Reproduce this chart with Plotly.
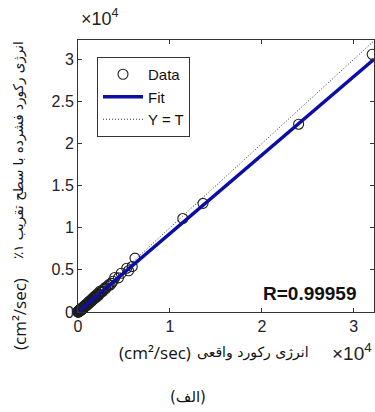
import numpy as np
import plotly.graph_objects as go

# ---- data (cm^2/sec) ----
actual = [0, 10, 30, 50, 70, 90, 110, 130, 150, 170, 200, 230, 260, 290, 320,
          350, 380, 420, 460, 500, 540, 590, 640, 700, 760, 820, 880, 950, 1020,
          1100, 1180, 1260, 1350, 1450, 1550, 1650, 1760, 1880, 2000, 2150, 2300,
          2450, 2600, 2800, 3000, 3200, 3500, 3800, 4000, 4400, 4700, 5300, 5500,
          5900, 6200, 11400, 13600, 24000, 32000,
          5, 15, 25, 40, 55, 65, 80, 100, 120, 140, 160, 185, 210, 240, 270,
          300, 340, 370, 400, 440, 480, 520, 570, 620, 680, 740, 800, 870, 930,
          1000, 1080, 1160, 1240, 1320, 1400, 1500, 1620, 1720, 1850, 1980,
          2100, 2250, 2400, 2700, 2950, 3350, 3650]
compressed = [0, 30, 10, 60, 40, 110, 80, 150, 120, 190, 160, 240, 210, 300, 260,
              370, 330, 420, 380, 500, 460, 560, 600, 690, 700, 800, 810, 920, 940,
              1060, 1090, 1200, 1230, 1380, 1420, 1580, 1600, 1800, 1820, 2050, 2100,
              2350, 2400, 2700, 2750, 3050, 3200, 3650, 4100, 4050, 4600, 5200, 4900,
              5400, 6400, 11100, 12900, 22300, 30600,
              60, 0, 70, 20, 100, 30, 130, 40, 170, 90, 220, 110, 250, 150, 320,
              220, 380, 250, 440, 330, 520, 390, 610, 500, 700, 610, 830, 720, 930,
              820, 1120, 980, 1280, 1150, 1440, 1300, 1680, 1540, 1900, 1750,
              2150, 1980, 2480, 2450, 2900, 3250, 3400]
fit_slope = 0.932
fit_intercept = 0.0
r_value = "0.99959"

x_tickvals = [0, 10000, 20000, 30000]
x_ticktext = ["0", "1", "2", "3"]
y_tickvals = [0, 5000, 10000, 15000, 20000, 25000, 30000]
y_ticktext = ["0", "0.5", "1", "1.5", "2", "2.5", "3"]
x_range = [0, 32200]
y_range = [0, 32300]

unit_label = "(cm²/sec)"
x_label_fa = "\u202Bانرژی رکورد واقعی\u202C"
y_label_fa = "\u202Bانرژی رکورد فشرده با سطح تقریب ۱٪\u202C"
caption = "\u202B(الف)\u202C"

line_x = np.array(x_range, dtype=float)
fit_y = fit_slope * line_x + fit_intercept

FONT = "Liberation Sans, Arial, DejaVu Sans, sans-serif"
LAT = "Open Sans, Liberation Sans, sans-serif"
FA = "DejaVu Sans, sans-serif"

# plot area in pixels: x 78..374, y 40..312
def px(xp):
    return (xp - 78) / 296.0

def py(yp):
    return (312 - yp) / 272.0

fig = go.Figure()
fig.add_trace(go.Scatter(
    x=actual, y=compressed, mode="markers", name="Data", cliponaxis=False,
    marker=dict(symbol="circle-open", size=10, color="#1e1e1e",
                line=dict(width=1.1, color="#1e1e1e"))))
fig.add_trace(go.Scatter(
    x=line_x, y=fit_y, mode="lines", name="Fit",
    line=dict(color="#0c0ca6", width=3.5)))
fig.add_trace(go.Scatter(
    x=line_x, y=line_x, mode="lines", name="Y = T",
    line=dict(color="#333333", width=1, dash="1px,2px")))

axis_common = dict(showgrid=False, zeroline=False, showline=True,
                   linecolor="#333333", linewidth=1, mirror="ticks",
                   ticks="inside", ticklen=4, tickcolor="#333333",
                   tickfont=dict(family=FONT, size=16, color="#222222"))

fig.update_xaxes(range=x_range, tickvals=x_tickvals, ticktext=x_ticktext,
                 **axis_common)
fig.update_yaxes(range=y_range, tickvals=y_tickvals, ticktext=y_ticktext,
                 **axis_common)

fig.update_layout(
    width=375, height=412,
    margin=dict(l=78, r=1, t=40, b=100),
    paper_bgcolor="white", plot_bgcolor="white",
    showlegend=True,
    legend=dict(x=px(97), y=py(57), xanchor="left", yanchor="top",
                bordercolor="#333333", borderwidth=1, bgcolor="white",
                font=dict(family=FONT, size=15, color="#111111"),
                tracegroupgap=0, itemwidth=40),
    annotations=[
        # x label
        dict(text=unit_label, xref="paper", yref="paper", x=px(155), y=py(352),
             xanchor="center", yanchor="middle", showarrow=False,
             font=dict(family=LAT, size=17, color="#111111")),
        dict(text=x_label_fa, xref="paper", yref="paper", x=px(253), y=py(352),
             xanchor="center", yanchor="middle", showarrow=False,
             font=dict(family=FA, size=14, color="#111111")),
        dict(text="×10<sup>4</sup>", xref="paper", yref="paper", x=px(374), y=py(352),
             xanchor="right", yanchor="middle", showarrow=False,
             font=dict(family=FONT, size=19, color="#222222")),
        dict(text="×10<sup>4</sup>", xref="paper", yref="paper", x=px(79), y=py(17),
             xanchor="left", yanchor="middle", showarrow=False,
             font=dict(family=FONT, size=18, color="#222222")),
        # y label
        dict(text=y_label_fa, xref="paper", yref="paper", x=px(18), y=py(150),
             xanchor="center", yanchor="middle", showarrow=False, textangle=-90,
             font=dict(family=FA, size=13.5, color="#111111")),
        dict(text=unit_label, xref="paper", yref="paper", x=px(19), y=py(314),
             xanchor="center", yanchor="middle", showarrow=False, textangle=-90,
             font=dict(family=LAT, size=17, color="#111111")),
        dict(text="<b>R=" + r_value + "</b>", xref="paper", yref="paper",
             x=px(359), y=py(293), xanchor="right", yanchor="middle", showarrow=False,
             font=dict(family=FONT, size=19, color="#111111")),
        dict(text=caption, xref="paper", yref="paper", x=px(188), y=py(397),
             xanchor="center", yanchor="middle", showarrow=False,
             font=dict(family=FA, size=15, color="#111111")),
    ],
)

fig.write_html("out.html")
